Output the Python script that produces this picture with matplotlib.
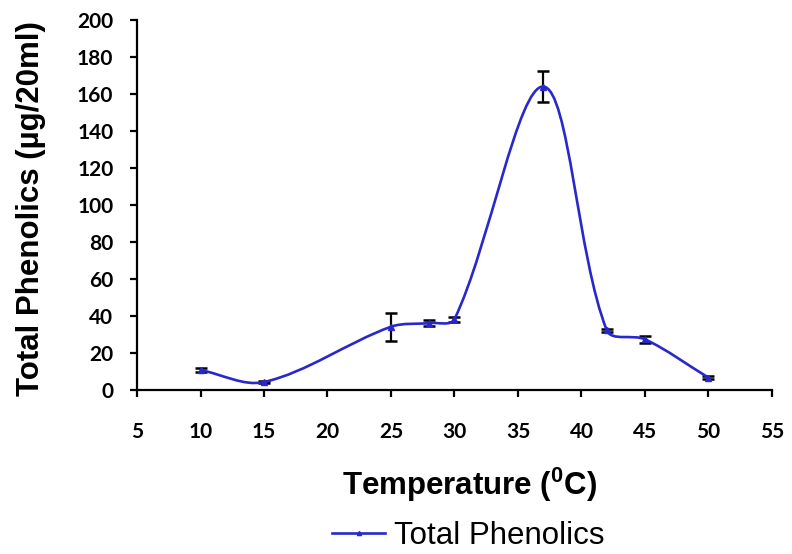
import numpy as np
import matplotlib
matplotlib.use('Agg')
import matplotlib.pyplot as plt
from matplotlib.path import Path
from matplotlib.patches import PathPatch
from matplotlib.lines import Line2D

temperature = [10, 15, 25, 28, 30, 37, 42, 45, 50]
phenolics = [10.8, 4.3, 34.2, 36.2, 38.3, 164.0, 32.2, 27.4, 6.7]
errors = [1.0, 0.6, 7.6, 1.4, 1.4, 8.3, 1.0, 1.8, 1.0]

line_color = '#2828CC'

fig = plt.figure(figsize=(7.92, 5.54), dpi=100)
ax = fig.add_axes([0.173, 0.296, 0.8017, 0.668])
ax.set_xlim(5, 55)
ax.set_ylim(0, 200)

# smoothed line (bezier in screen space, tangents weighted by segment length)
fig.canvas.draw()
pts = ax.transData.transform(np.column_stack([temperature, phenolics]))
ext = np.vstack([pts[0], pts, pts[-1]])
verts = [tuple(pts[0])]
codes = [Path.MOVETO]
for i in range(len(pts) - 1):
    p0, p1, p2, p3 = ext[i], ext[i + 1], ext[i + 2], ext[i + 3]
    d01 = np.hypot(*(p1 - p0))
    d12 = np.hypot(*(p2 - p1))
    d23 = np.hypot(*(p3 - p2))
    c1 = p1 + (p2 - p0) * d12 / (d01 + d12) / 3.0
    c2 = p2 - (p3 - p1) * d12 / (d12 + d23) / 3.0
    verts += [tuple(c1), tuple(c2), tuple(p2)]
    codes += [Path.CURVE4] * 3
verts = ax.transData.inverted().transform(np.array(verts))
ax.add_patch(PathPatch(Path(verts, codes), fill=False, edgecolor=line_color,
                       lw=1.9, zorder=3))

ax.errorbar(temperature, phenolics, yerr=errors, fmt='none', ecolor='black',
            elinewidth=1.6, capsize=4, capthick=1.8, zorder=2)
ax.plot(temperature, phenolics, linestyle='none', marker='^', markersize=4,
        color=line_color, zorder=4)

ax.set_xticks(range(5, 56, 5))
ax.set_yticks(range(0, 201, 20))
for side in ['top', 'right']:
    ax.spines[side].set_visible(False)
for side in ['left', 'bottom']:
    ax.spines[side].set_linewidth(1.6)
ax.tick_params(direction='out', length=5, width=1.6, labelsize=15)
ax.tick_params(axis='x', pad=18)
ax.tick_params(axis='y', pad=12)
for lab in ax.get_xticklabels() + ax.get_yticklabels():
    lab.set_fontfamily('Lato')
    lab.set_fontweight('bold')

ax.set_xlabel('Temperature ($\\mathregular{^0}$C)', fontsize=22.5, fontweight='bold',
              fontfamily='Liberation Sans', va='top')
ax.xaxis.set_label_coords(0.524, -0.205)
ax.set_ylabel('Total Phenolics (µg/20ml)', fontsize=22.5, fontweight='bold',
              fontfamily='Liberation Sans', va='bottom')
ax.yaxis.set_label_coords(-0.143, 0.49)

handle = Line2D([], [], color=line_color, lw=1.9, marker='^', markersize=3)
fig.legend(handles=[handle], labels=['Total Phenolics'], loc='center left',
           bbox_to_anchor=(332 / 792, 1 - 536 / 554), frameon=False,
           borderpad=0, borderaxespad=0, handlelength=1.7,
           handletextpad=0.3, prop={'family': 'Liberation Sans', 'size': 22.5})

fig.savefig('out.png', dpi=100)
